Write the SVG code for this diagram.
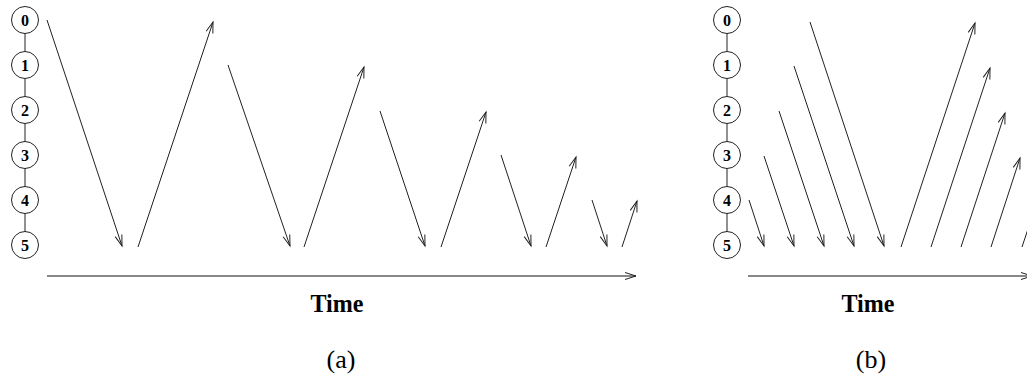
<svg xmlns="http://www.w3.org/2000/svg" width="1027" height="385" viewBox="0 0 1027 385">
<style>
.bg{fill:#fff}
.node circle{fill:#fff;stroke:#222;stroke-width:1}
.node text{font-family:"Liberation Serif",serif;font-weight:bold;font-size:16px;fill:#000;text-anchor:middle}
.chain{stroke:#222;stroke-width:1}
.arr{stroke:#222;stroke-width:1;fill:none;marker-end:url(#ah)}
.axis{stroke:#111;stroke-width:1.2;fill:none;marker-end:url(#ah)}
.lbl{font-family:"Liberation Serif",serif;font-weight:bold;font-size:26px;fill:#000;text-anchor:middle}
.cap{font-family:"Liberation Serif",serif;font-size:26px;fill:#000;text-anchor:middle}
</style>
<defs>
<marker id="ah" markerUnits="userSpaceOnUse" markerWidth="14" markerHeight="10" viewBox="-12 -5 14 10" refX="0" refY="0" orient="auto">
<path d="M-11,-3.5 L0,0 L-11,3.5" fill="none" stroke="#222" stroke-width="1"/>
</marker>
</defs>
<rect class="bg" x="0" y="0" width="1027" height="385"/>

<!-- chain lines -->
<g id="chains">
<line class="chain" x1="25" y1="20" x2="25" y2="245"/>
<line class="chain" x1="727" y1="20" x2="727" y2="245"/>
</g>

<!-- panel (a) nodes -->
<g id="a-node0" class="node"><circle cx="25" cy="20" r="13.5"/><text x="25" y="25.5">0</text></g>
<g id="a-node1" class="node"><circle cx="25" cy="65" r="13.5"/><text x="25" y="70.5">1</text></g>
<g id="a-node2" class="node"><circle cx="25" cy="110" r="13.5"/><text x="25" y="115.5">2</text></g>
<g id="a-node3" class="node"><circle cx="25" cy="155" r="13.5"/><text x="25" y="160.5">3</text></g>
<g id="a-node4" class="node"><circle cx="25" cy="200" r="13.5"/><text x="25" y="205.5">4</text></g>
<g id="a-node5" class="node"><circle cx="25" cy="245" r="13.5"/><text x="25" y="250.5">5</text></g>

<!-- panel (b) nodes -->
<g id="b-node0" class="node"><circle cx="727" cy="20" r="13.5"/><text x="727" y="25.5">0</text></g>
<g id="b-node1" class="node"><circle cx="727" cy="65" r="13.5"/><text x="727" y="70.5">1</text></g>
<g id="b-node2" class="node"><circle cx="727" cy="110" r="13.5"/><text x="727" y="115.5">2</text></g>
<g id="b-node3" class="node"><circle cx="727" cy="155" r="13.5"/><text x="727" y="160.5">3</text></g>
<g id="b-node4" class="node"><circle cx="727" cy="200" r="13.5"/><text x="727" y="205.5">4</text></g>
<g id="b-node5" class="node"><circle cx="727" cy="245" r="13.5"/><text x="727" y="250.5">5</text></g>

<g id="connectors">
<!-- panel (a) -->
<line class="arr" x1="47" y1="20" x2="122" y2="246"/>
<line class="arr" x1="138" y1="247" x2="213" y2="22"/>
<line class="arr" x1="228" y1="65" x2="290" y2="246"/>
<line class="arr" x1="304" y1="247" x2="364" y2="67"/>
<line class="arr" x1="380" y1="111" x2="425" y2="246"/>
<line class="arr" x1="441" y1="247" x2="486" y2="112"/>
<line class="arr" x1="501" y1="155" x2="531" y2="246"/>
<line class="arr" x1="546" y1="247" x2="576" y2="157"/>
<line class="arr" x1="592" y1="200" x2="607" y2="246"/>
<line class="arr" x1="622" y1="247" x2="637" y2="201"/>
<line class="axis" x1="47" y1="276" x2="636" y2="276"/>
<!-- panel (b) -->
<line class="arr" x1="749" y1="200" x2="764" y2="246"/>
<line class="arr" x1="764" y1="156" x2="794" y2="246"/>
<line class="arr" x1="779" y1="111" x2="824" y2="246"/>
<line class="arr" x1="794" y1="66" x2="854" y2="246"/>
<line class="arr" x1="810" y1="22" x2="884" y2="246"/>
<line class="arr" x1="901" y1="247" x2="975" y2="23"/>
<line class="arr" x1="931" y1="247" x2="990" y2="68"/>
<line class="arr" x1="961" y1="247" x2="1005" y2="113"/>
<line class="arr" x1="991" y1="247" x2="1020" y2="158"/>
<line class="arr" x1="1022" y1="247" x2="1037" y2="202"/>
<line class="axis" x1="748" y1="276" x2="1032" y2="276"/>
</g>

<g id="labels">
<text class="lbl" x="337" y="312" textLength="53" lengthAdjust="spacingAndGlyphs">Time</text>
<text class="lbl" x="868" y="312" textLength="53" lengthAdjust="spacingAndGlyphs">Time</text>
<text class="cap" x="341" y="368">(a)</text>
<text class="cap" x="871" y="368">(b)</text>
</g>
</svg>
